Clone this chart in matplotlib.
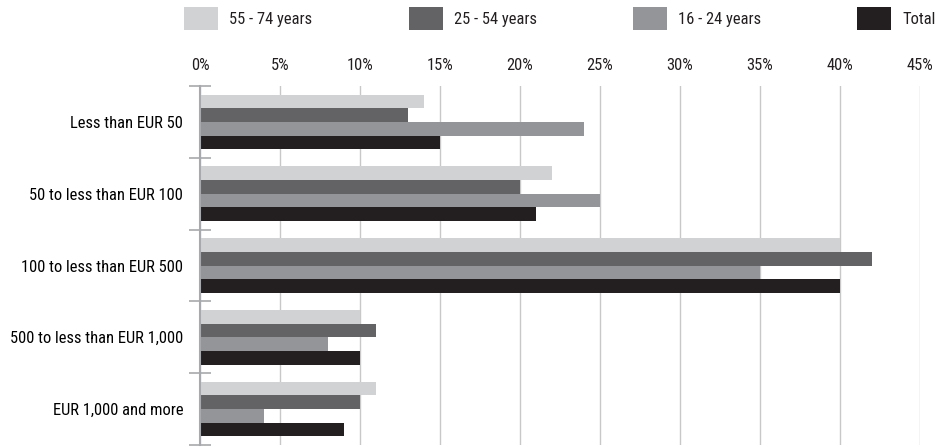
import numpy as np
import matplotlib
matplotlib.use("Agg")
import matplotlib.pyplot as plt
from matplotlib.patches import Patch
from matplotlib import font_manager

# data (percent)
categories = ["Less than EUR 50", "50 to less than EUR 100", "100 to less than EUR 500",
              "500 to less than EUR 1,000", "EUR 1,000 and more"]
series_names = ["55 - 74 years", "25 - 54 years", "16 - 24 years", "Total"]
age_55_74 = [14, 22, 40, 10, 11]
age_25_54 = [13, 20, 42, 11, 10]
age_16_24 = [24, 25, 35, 8, 4]
total = [15, 21, 40, 10, 9]
x_ticks = [0, 5, 10, 15, 20, 25, 30, 35, 40, 45]

colors = ["#d1d2d4", "#636365", "#939598", "#231f20"]

# pick the narrowest family that is installed
names = {f.name for f in font_manager.fontManager.ttflist}
wanted = ["Roboto Condensed", "Open Sans Condensed", "Liberation Sans Narrow",
          "Noto Sans Condensed", "Liberation Sans", "DejaVu Sans"]
fam = [f for f in wanted if f in names][0]
plt.rcParams["font.family"] = [fam, "DejaVu Sans"]
plt.rcParams["text.color"] = "#231f20"

fig = plt.figure(figsize=(9.35, 4.47), dpi=100)

# size the font so the first label is about as wide as in the reference
probe = fig.text(0, 0, categories[0], fontsize=12)
w = probe.get_window_extent(fig.canvas.get_renderer()).width
probe.remove()
fs = min(13, 12 * 113 / w)
fs_px = fs * 100 / 72

ax = fig.add_axes([200 / 935, 2 / 447, 720 / 935, 359 / 447])

series = [age_55_74, age_25_54, age_16_24, total]
n = len(categories)
y = np.arange(n)
h = 0.19
for i, (vals, c) in enumerate(zip(series, colors)):
    ax.barh(y + (i - 1.5) * h, vals, height=h, color=c, zorder=3)

ax.set_ylim(n - 0.5, -0.5)
ax.set_xlim(0, 45)
ax.set_xticks(x_ticks)
ax.set_xticklabels([f"{t}%" for t in x_ticks])
ax.xaxis.tick_top()
ax.tick_params(axis="x", length=0, pad=9, labelsize=fs, colors="#231f20")
ax.grid(axis="x", color="#c8c8c8", linewidth=1, zorder=0)

ax.set_yticks(y)
ax.set_yticklabels(categories)
ax.tick_params(axis="y", which="major", length=0, pad=12, labelsize=fs)
ax.set_yticks(np.arange(n + 1) - 0.5, minor=True)
ax.tick_params(axis="y", which="minor", length=16, direction="inout",
               color="#a7a9ac", width=1.2)

for s in ["top", "right", "bottom"]:
    ax.spines[s].set_visible(False)
ax.spines["left"].set_color("#a7a9ac")
ax.spines["left"].set_linewidth(1.5)
ax.spines["left"].set_zorder(4)

# legend entries sit at fixed spots along the top; swatches ~34x23 px
hh = (23 / fs_px - 0.245) / 0.65
leg_x = [184, 409, 633, 857]
for c, name, lx in zip(colors, series_names, leg_x):
    fig.legend([Patch(facecolor=c, edgecolor="none")], [name], loc="upper left",
               bbox_to_anchor=(lx / 935, 1 - 7 / 447), frameon=False,
               borderpad=0, borderaxespad=0, fontsize=fs,
               handlelength=34 / fs_px, handleheight=hh,
               handletextpad=11 / fs_px)

fig.savefig("out.png", dpi=100)
